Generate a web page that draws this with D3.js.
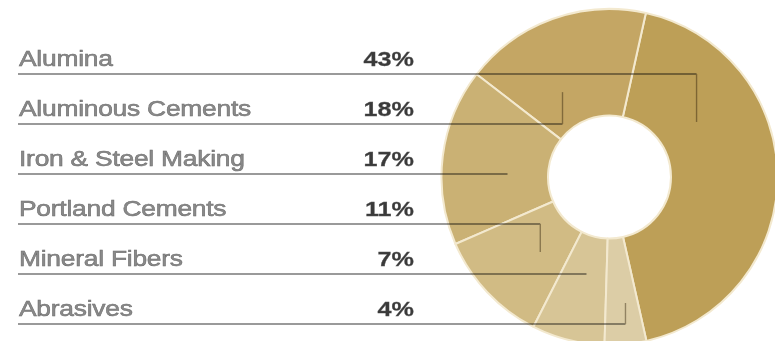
<!DOCTYPE html>
<html>
<head>
<meta charset="utf-8">
<script src="https://cdn.jsdelivr.net/npm/d3@7"></script>
<style>
  html, body { margin: 0; padding: 0; background: #fff; overflow: hidden; }
  svg { display: block; }
</style>
</head>
<body>
<svg id="chart" width="775" height="341"></svg>
<script>
// Bauxite / alumina end uses, share of consumption (%)
const categories = ["Alumina", "Aluminous Cements", "Iron & Steel Making", "Portland Cements", "Mineral Fibers", "Abrasives"];
const shares = [43, 18, 17, 11, 7, 4];
const sliceColors = ["#bd9f57", "#c4a664", "#cab174", "#d1bb84", "#d7c596", "#dccda6"];

// Where each leader line meets its slice: fraction across the slice, and radius
const leaderFrac = [0.708, 0.64, 0.6, 0.6, 0.55, 0.62];
const leaderRadius = [103, 97, 102, 102, 102, 127];

const W = 775, H = 341;
const cx = 609.5, cy = 177;
const innerR = 61.5, outerR = 168;
const topBoundaryDeg = 12.5;          // edge between first and last slice
const rad = d => d * Math.PI / 180;

const svg = d3.select("#chart");

// Slices run counter-clockwise from the first one's far edge
const startA = rad(topBoundaryDeg) + 2 * Math.PI * shares[0] / d3.sum(shares);
const pie = d3.pie().sort(null).value(d => d)
  .startAngle(startA).endAngle(startA - 2 * Math.PI);
const arcs = pie(shares);

const arc = d3.arc().innerRadius(innerR).outerRadius(outerR);

const donut = svg.append("g").attr("transform", `translate(${cx},${cy})`);
donut.selectAll("path.slice")
  .data(arcs)
  .join("path")
  .attr("class", "slice")
  .attr("d", arc)
  .attr("fill", (d, i) => sliceColors[i])
  .attr("stroke", "#f3e9cf")
  .attr("stroke-width", 2)
  .attr("stroke-linejoin", "round");

// Label rows
const rowY = d3.scalePoint().domain(categories).range([74, 324]);
const labelX = 18, valueRight = 414;

// Leader lines: horizontal rule under each label, then a short vertical into the slice
const anchor = (d, i) => {
  const a = d.startAngle + leaderFrac[i] * (d.endAngle - d.startAngle);
  const r = leaderRadius[i];
  return [cx + r * Math.sin(a), cy - r * Math.cos(a)];
};

const leaders = svg.append("g").style("mix-blend-mode", "multiply");
arcs.forEach((d, i) => {
  const [ax, ay] = anchor(d, i);
  const y = rowY(categories[i]);
  leaders.append("line")
    .attr("x1", labelX).attr("x2", ax)
    .attr("y1", y).attr("y2", y)
    .attr("stroke", "#9a9a9a")
    .attr("stroke-width", 1.8);
  if (Math.abs(ay - y) > 3) {
    leaders.append("line")
      .attr("x1", ax).attr("x2", ax)
      .attr("y1", y).attr("y2", ay)
      .attr("stroke", "#a8a296")
      .attr("stroke-width", 1.4);
  }
});

// Category names and shares
const labels = svg.append("g")
  .attr("font-family", "'Liberation Sans', Arial, Helvetica, sans-serif");

labels.selectAll("text.name")
  .data(categories)
  .join("text")
  .attr("class", "name")
  .attr("transform", d => `translate(${labelX + 1},${rowY(d) - 8}) scale(1.2,1)`)
  .attr("font-size", 22)
  .attr("letter-spacing", -0.2)
  .attr("fill", "#8a8a8a")
  .attr("stroke", "#6a6a6a")
  .attr("stroke-width", 0.5)
  .text(d => d);

labels.selectAll("text.value")
  .data(shares)
  .join("text")
  .attr("class", "value")
  .attr("transform", (d, i) => `translate(${valueRight},${rowY(categories[i]) - 8}) scale(1.2,1)`)
  .attr("text-anchor", "end")
  .attr("font-size", 21)
  .attr("font-weight", "bold")
  .attr("fill", "#3a3a3a")
  .attr("stroke", "#555")
  .attr("stroke-width", 0.3)
  .text(d => d + "%");
</script>
</body>
</html>
